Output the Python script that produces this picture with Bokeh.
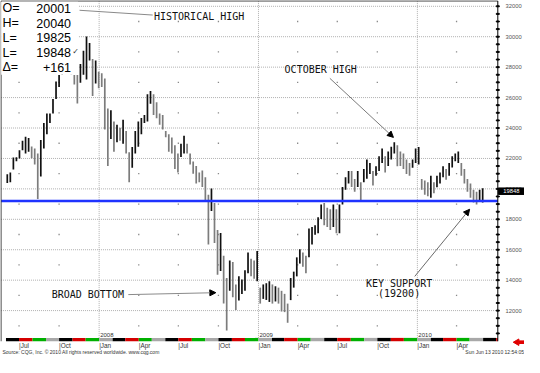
import pandas as pd
from bokeh.plotting import figure
from bokeh.models import Range1d, Label, Arrow, NormalHead
from bokeh.core.properties import value
from bokeh.embed import file_html
from bokeh.resources import INLINE

# ---------------- data (weekly bars) ----------------
first_week = "2007-06-04"
highs = [20960, 21070, 22060, 22080, 22540, 23170, 23420, 23340, 22790, 22650,
         22330, 23210, 24330, 24960, 24960, 25900, 27060, 27480, 28300, 28900,
         28600, 28400, 27480, 27480, 28210, 29070, 30020, 29580, 28530, 28440,
         27690, 27600, 27250, 25290, 25170, 24430, 24220, 24010, 24540, 23800,
         22400, 22750, 23800, 24430, 24660, 24850, 26220, 26430, 26220, 25700,
         24960, 24850, 23800, 23590, 23380, 22860, 22330, 22960, 23490, 22960,
         22330, 21800, 21510, 21070, 21200, 20760, 19620, 20020, 19070, 17290,
         17100, 15610, 14140, 15290, 15190, 13720, 14250, 14040, 14660, 15820,
         15400, 15300, 15920, 13510, 13720, 13800, 13930, 13720, 13600, 13510,
         13300, 13100, 12460, 14140, 14560, 15500, 16030, 15820, 15610, 17400,
         17500, 17610, 18130, 18970, 19070, 18760, 18660, 18970, 18660, 18970,
         20130, 20760, 21180, 21180, 20650, 21180, 20440, 21300, 21930, 21700,
         21180, 21490, 22140, 22650, 22140, 22460, 22770, 23070, 22860, 22460,
         22330, 21930, 21700, 21930, 22650, 22750, 20650, 20550, 20440, 20860,
         20440, 20860, 21070, 21490, 21300, 21700, 22140, 22330, 22460, 21700,
         21300, 20650, 20350, 19940, 19810, 19940, 20040]
lows = [20390, 20440, 21280, 21810, 21990, 22540, 22330, 22440, 22020, 21600,
        19330, 20820, 22650, 23590, 24330, 24960, 25900, 26700, 27500, 27900,
        27600, 27500, 26860, 25610, 26970, 27500, 27180, 28440, 26110, 26930,
        26620, 26700, 23910, 21510, 23280, 22440, 23070, 23170, 22960, 22330,
        20440, 21390, 22330, 22770, 23590, 24330, 24430, 25590, 24850, 24640,
        24220, 23910, 23400, 22440, 22330, 21300, 21070, 22100, 22330, 22330,
        21600, 21000, 20350, 20440, 20130, 19180, 16350, 18550, 16450, 14350,
        14600, 12460, 10700, 13300, 12880, 12040, 12670, 13090, 13300, 14460,
        14250, 14100, 13930, 12460, 12770, 12700, 12570, 12460, 12600, 12460,
        11940, 11900, 11200, 12690, 13510, 14250, 15090, 14880, 14460, 15510,
        16350, 16980, 17080, 18020, 17610, 17500, 17290, 17500, 17080, 17080,
        18970, 19940, 20350, 20130, 19810, 20130, 19230, 20440, 20670, 20970,
        20230, 20860, 21180, 21700, 21070, 21510, 21930, 22330, 21490, 21510,
        21300, 20970, 20860, 21390, 21700, 21600, 19940, 19620, 19510, 19410,
        19720, 20100, 20350, 20760, 20600, 20860, 21400, 21810, 21700, 20860,
        20350, 19810, 19410, 19100, 18970, 19180, 19100]
support_level = 19200
last_price = 19848
price_ticks = [12000, 14000, 16000, 18000, 20000, 22000, 24000, 26000, 28000, 30000, 32000]
info_keys = ["O=", "H=", "L=", "L=", "\u0394="]
info_values = ["20001", "20040", "19825", "19848", "+161"]
year_labels = ["2008", "2009", "2010"]
band_colors = ["#000000", "#d40000", "#00b000", "#a8a8a8"]
source_text = "Source: CQG, Inc. \u00a9 2010 All rights reserved worldwide. www.cqg.com"
stamp_text = "Sun Jun 13 2010 12:54:05"


def ms(s):
    return pd.Timestamp(s).value / 1e6


# ---------------- layout constants (where the plot area sits in the canvas) ----------------
X0, X1 = ms("2007-05-19 10:00"), ms("2010-09-04 02:00")   # canvas extent (time)
Y0, Y1 = 8918, 32380                                     # canvas extent (price)
plot_left, plot_right = ms("2007-05-20 12:00"), ms("2010-07-04 18:00")
plot_top, plot_floor, band_top = 32350, 9987, 10207
ylabel_x = ms("2010-07-22 17:00")
tag_x = ms("2010-08-05")
xlabel_y, year_y = 9736, 10396
footer_y = 9250

dates = pd.date_range(first_week, periods=len(highs), freq="7D")
mids = [(h + l) / 2 for h, l in zip(highs, lows)]
colors = ["#111111" if i == 0 or mids[i] >= mids[i - 1] else "#7c7c7c" for i in range(len(mids))]

p = figure(width=524, height=357, x_axis_location=None, y_axis_location=None,
           x_range=Range1d(X0, X1), y_range=Range1d(Y0, Y1),
           toolbar_location=None, output_backend="svg",
           min_border=0, min_border_left=0, min_border_right=0, min_border_top=0, min_border_bottom=0)
p.background_fill_color = "white"
p.border_fill_color = "white"
p.outline_line_color = None
p.grid.visible = False

grid_col = "#b0b0b0"
# horizontal dotted grid at every price tick
n = len(price_ticks)
p.segment(x0=[plot_left] * n, x1=[plot_right] * n, y0=price_ticks, y1=price_ticks,
          line_color=grid_col, line_dash="1 1", line_width=1)
# vertical dotted year lines
jan = [ms(f"{y}-01-01") for y in year_labels]
p.segment(x0=jan, x1=jan, y0=[band_top] * len(jan), y1=[plot_top] * len(jan),
          line_color=grid_col, line_dash="1 1", line_width=1)
# sparse dots on the quarter lines
quarters = pd.date_range("2007-07-01", "2010-04-01", freq="QS")
inner_q = [q for q in quarters if q.month != 1]
odd_levels = list(range(11000, 32000, 2000))
p.scatter([q for q in inner_q for _ in odd_levels], [v for _ in inner_q for v in odd_levels],
          marker="square", size=1.3, color="#8a8a8a", line_color=None)

# month colour band at the foot of the chart
months = pd.date_range("2007-06-01", "2010-08-01", freq="MS")
lefts = [ms(m) for m in months[:-1]]
rights = [min(ms(m), plot_right) for m in months[1:]]
p.quad(left=lefts, right=rights, bottom=plot_floor, top=band_top,
       color=[band_colors[i % 4] for i in range(len(lefts))], line_color=None)

# weekly high-low bars
p.segment(x0=dates, y0=lows, x1=dates, y1=highs, line_color=colors, line_width=1.7)

# support line
p.segment(x0=[plot_left], x1=[plot_right], y0=[support_level], y1=[support_level],
          line_color="#1f33ff", line_width=2.5)

# frame: left and top border, right price axis line with small ticks
p.segment(x0=[plot_left, plot_left], x1=[plot_left, plot_right], y0=[plot_floor, plot_top],
          y1=[plot_top, plot_top], line_color="#3a3a3a", line_width=1.2)
p.segment(x0=[plot_right], x1=[plot_right], y0=[plot_floor], y1=[plot_top], line_color="black", line_width=1)
minor = list(range(10500, 32500, 500))
p.rect(x=[plot_right] * len(minor), y=minor, width=3, height=1, width_units="screen",
       height_units="screen", color="black")

# price labels on the right
p.text(x=[ylabel_x] * n, y=price_ticks, text=[str(t) for t in price_ticks],
       text_font=value("Liberation Sans"), text_font_size="5.8px", text_color="#555555",
       text_align="left", text_baseline="middle")
# last price tag
p.rect(x=[tag_x], y=[last_price], width=26, height=6.5, width_units="screen", height_units="screen",
       color="black")
p.text(x=[tag_x], y=[last_price], text=[str(last_price)], text_font=value("Liberation Sans"),
       text_font_size="5.8px", text_color="white", text_align="center", text_baseline="middle")

# time labels
p.text(x=list(quarters), y=[xlabel_y] * len(quarters), text=["|" + q.strftime("%b") for q in quarters],
       text_font=value("Liberation Sans"), text_font_size="6.4px", text_color="#333333",
       text_align="left", text_baseline="middle")
p.text(x=jan, y=[year_y] * len(jan), text=year_labels, x_offset=1,
       text_font=value("Liberation Sans"), text_font_size="6px", text_color="#333333",
       text_align="left", text_baseline="middle")

# info box (hides the bars behind it)
p.quad(left=[ms("2007-05-21")], right=[ms("2007-11-13 17:00")], bottom=[27505], top=[32300],
       color="white", line_color=None)
row_y = [31876, 30901, 29927, 28952, 27977]
p.text(x=[ms("2007-05-24")] * 5, y=row_y, text=info_keys, text_font=value("Liberation Sans"),
       text_font_size="12.5px", text_color="black", text_align="left", text_baseline="middle")
p.text(x=[ms("2007-10-28 12:00")] * 5, y=row_y, text=info_values, text_font=value("Liberation Sans"),
       text_font_size="12.5px", text_color="black", text_align="right", text_baseline="middle")
p.add_layout(Label(x=ms("2007-10-31 10:00"), y=29014, text="\u2713", text_font="DejaVu Sans",
                   text_font_size="8px", text_color="#333333", text_baseline="middle", text_align="left"))

# annotations
mono = dict(text_font="DejaVu Sans Mono", text_font_size="10px", text_color="#111111",
            text_baseline="middle")
p.add_layout(Arrow(end=None, x_start=ms("2007-11-17"), y_start=31738, x_end=ms("2008-05-03"),
                   y_end=31423, line_color="#8a8a8a", line_width=1))
p.add_layout(Label(x=ms("2008-05-06"), y=31310, text="HISTORICAL HIGH", text_align="left", **mono))

p.add_layout(Label(x=ms("2009-03-02"), y=27813, text="OCTOBER HIGH", text_align="left", **mono))
p.add_layout(Arrow(end=NormalHead(size=6, fill_color="black", line_color="black"),
                   x_start=ms("2009-06-14"), y_start=27265, x_end=ms("2009-11-07"), y_end=23384,
                   line_color="#7a7a7a", line_width=1))

p.add_layout(Label(x=ms("2007-09-14"), y=13084, text="BROAD BOTTOM", text_align="left", **mono))
p.add_layout(Arrow(end=NormalHead(size=6, fill_color="black", line_color="black"),
                   x_start=ms("2008-03-08"), y_start=13052, x_end=ms("2008-09-25"), y_end=13178,
                   line_color="#8a8a8a", line_width=1))

p.add_layout(Label(x=ms("2009-11-20"), y=13795, text="KEY SUPPORT", text_align="center", **mono))
p.add_layout(Label(x=ms("2009-11-20"), y=13134, text="(19200)", text_align="center", **mono))
p.add_layout(Arrow(end=NormalHead(size=6, fill_color="black", line_color="black"),
                   x_start=ms("2009-12-26"), y_start=14249, x_end=ms("2010-05-01"), y_end=18659,
                   line_color="#6a6a6a", line_width=1))

# footer
p.add_layout(Label(x=ms("2007-05-24"), y=footer_y, text=source_text, text_font="Liberation Sans",
                   text_font_size="5px", text_color="#333333", text_baseline="middle", text_align="left"))
p.add_layout(Label(x=ms("2010-09-03"), y=footer_y, text=stamp_text, text_font="Liberation Sans",
                   text_font_size="5px", text_color="#333333", text_baseline="middle", text_align="right"))
# small red arrow at the bottom right (head + shaft)
p.scatter(x=[ms("2010-08-17 20:00")], y=[9923], marker="triangle", angle=1.5708, size=6.5,
          color="#e00000", line_color="#e00000")
p.rect(x=[ms("2010-08-28 05:00")], y=[9923], width=5, height=2.6, width_units="screen",
       height_units="screen", color="#e00000")

open("out.html", "w").write(file_html(p, INLINE))
